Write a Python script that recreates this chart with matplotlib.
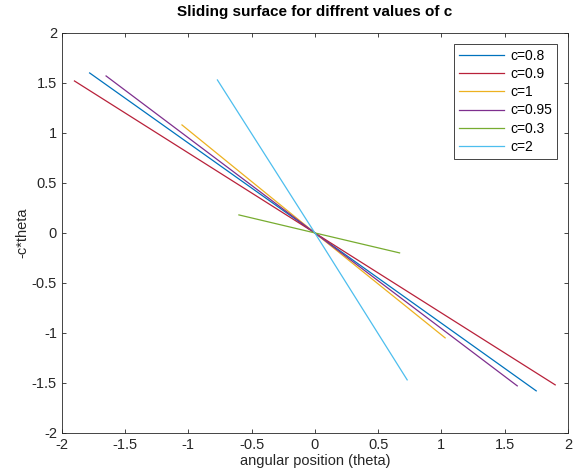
import matplotlib.pyplot as plt

# legend labels and the line ends
labels = ['c=0.8', 'c=0.9', 'c=1', 'c=0.95', 'c=0.3', 'c=2']
theta_start = [-1.78, -1.90, -1.05, -1.65, -0.60, -0.77]
theta_end = [1.75, 1.90, 1.03, 1.60, 0.67, 0.73]
y_start = [1.60, 1.52, 1.08, 1.57, 0.18, 1.53]
y_end = [-1.58, -1.52, -1.05, -1.53, -0.20, -1.47]
colors = ['#0072BD', '#B8213A', '#EDB120', '#7E2F8E', '#77AC30', '#4DBEEE']

plt.rcParams['font.family'] = ['Liberation Sans', 'DejaVu Sans']
plt.rcParams['font.size'] = 10

fig = plt.figure(figsize=(5.83, 4.71), dpi=100)
ax = fig.add_axes([0.106, 0.081, 0.868, 0.849])

for i in range(len(labels)):
    ax.plot([theta_start[i], 0, theta_end[i]], [y_start[i], 0, y_end[i]],
            color=colors[i], linewidth=0.9, label=labels[i])

ax.set_xlim(-2, 2)
ax.set_ylim(-2, 2)
ax.set_xticks([-2, -1.5, -1, -0.5, 0, 0.5, 1, 1.5, 2])
ax.set_xticklabels(['-2', '-1.5', '-1', '-0.5', '0', '0.5', '1', '1.5', '2'])
ax.set_yticks([-2, -1.5, -1, -0.5, 0, 0.5, 1, 1.5, 2])
ax.set_yticklabels(['-2', '-1.5', '-1', '-0.5', '0', '0.5', '1', '1.5', '2'])
ax.tick_params(direction='in', top=True, right=True, length=3, width=0.6,
               colors='#262626', labelsize=10.5)
for s in ax.spines.values():
    s.set_linewidth(0.6)
    s.set_color('#262626')

ax.set_xlabel('angular position (theta)', fontsize=10.5, color='#262626', labelpad=2)
ax.set_ylabel('-c*theta', fontsize=10.5, color='#262626', labelpad=2)
ax.set_title('Sliding surface for diffrent values of c', fontsize=11,
             fontweight='bold', pad=12)

leg = ax.legend(loc='upper right', fontsize=10, handlelength=3.3,
                fancybox=False, edgecolor='#262626', framealpha=1,
                labelspacing=0.3, borderaxespad=0.8, borderpad=0.35,
                handletextpad=0.4)
leg.get_frame().set_linewidth(0.6)

fig.savefig('out.png', dpi=100)
